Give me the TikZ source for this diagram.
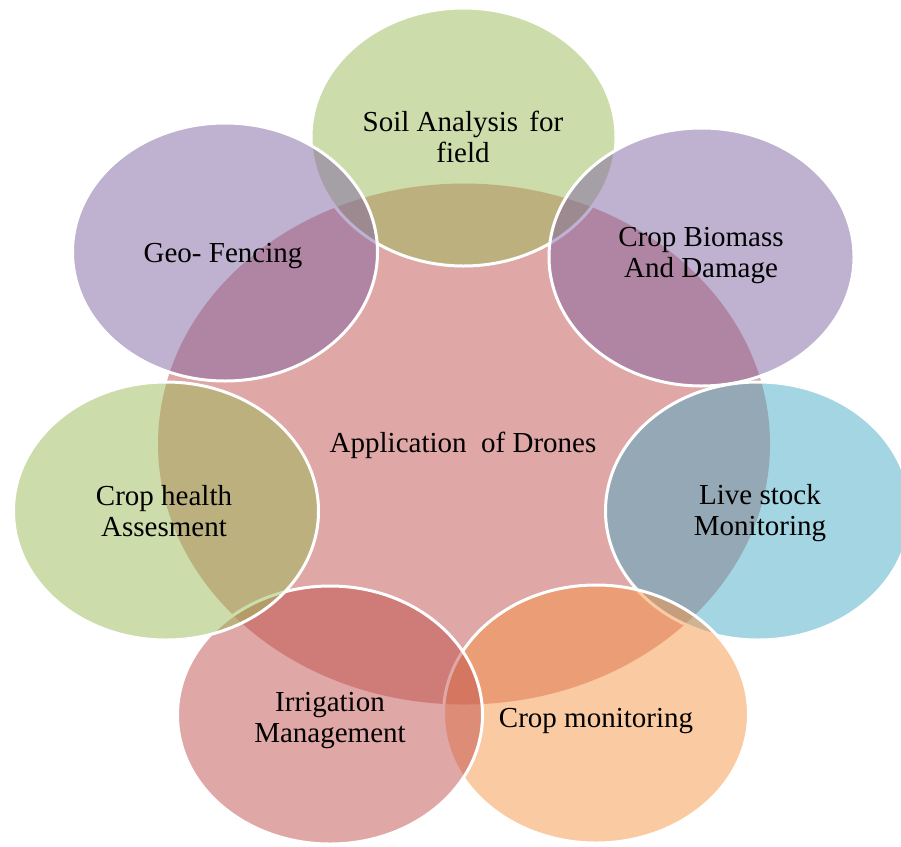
\documentclass[tikz,border=0pt]{standalone}
\usepackage{fontspec}
\setmainfont{Liberation Serif}
\usetikzlibrary{shapes.geometric}
\definecolor{accRed}{HTML}{C0504D}
\definecolor{accGreen}{HTML}{9BBB59}
\definecolor{accPurple}{HTML}{8064A2}
\definecolor{accAqua}{HTML}{4BACC6}
\definecolor{accOrange}{HTML}{F79646}
\begin{document}
\begin{tikzpicture}[x=1pt,y=-1pt,
  hub/.style={ellipse, inner sep=0pt, fill=accRed, fill opacity=0.5, draw=none,
    minimum width=612pt, minimum height=521pt},
  petal/.style={ellipse, inner sep=0pt, fill=#1, fill opacity=0.5,
    draw=white, draw opacity=1, line width=3pt,
    minimum width=305pt, minimum height=258pt},
  caption/.style={anchor=base, align=center, inner sep=0pt,
    font=\fontsize{29}{31}\selectfont, text=black}]
\useasboundingbox (0,0) rectangle (901,846);
\fill[white] (0,0) rectangle (901,846);

% central hub
\node[hub] (hub) at (464,444) {};

% surrounding petals, clockwise from the top
\node[petal=accGreen]  (soil)    at (463.5,137) {};
\node[petal=accPurple] (biomass) at (701.5,257) {};
\node[petal=accAqua]   (live)    at (758,511) {};
\node[petal=accOrange] (monitor) at (596,714) {};
\node[petal=accRed]    (irrig)   at (330,715) {};
\node[petal=accGreen]  (health)  at (166,511) {};
\node[petal=accPurple] (geo)     at (225,252) {};

% captions (base anchor sits on the last line's baseline)
\node[caption] (hubT)     at (463,452) {Application\ \ of Drones};
\node[caption] (soilT)    at (463,162.5) {Soil Analysis\hspace{4pt} for\\field};
\node[caption] (biomassT) at (701,277.5) {Crop Biomass\\And Damage};
\node[caption] (liveT)    at (760,535.5) {Live stock\\Monitoring};
\node[caption] (monitorT) at (596,727) {Crop monitoring};
\node[caption] (irrigT)   at (330,742) {Irrigation\\Management};
\node[caption] (healthT)  at (164,536) {Crop health\\Assesment};
\node[caption] (geoT)     at (223,262) {Geo- Fencing};
\end{tikzpicture}
\end{document}
